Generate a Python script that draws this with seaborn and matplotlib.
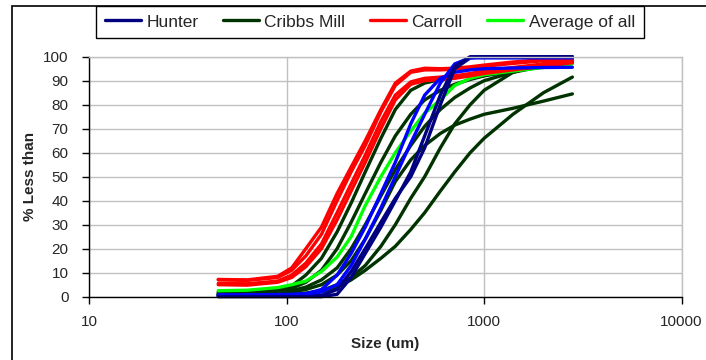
import matplotlib
matplotlib.use("Agg")
import matplotlib.pyplot as plt
from matplotlib.lines import Line2D
from matplotlib.patches import Rectangle
from matplotlib.ticker import NullLocator
import pandas as pd
import seaborn as sns

# sieve sizes (um)
sizes = [45, 63, 90, 106, 125, 150, 180, 212, 250, 300, 355, 425, 500, 600, 710, 850, 1000, 1400, 2000, 2800]

# Hunter samples (% less than)
hunter_1 = [0.5, 0.5, 0.6, 0.8, 1.2, 3, 9, 18, 29, 43, 56, 72, 84, 91, 93.5, 94.5, 95, 95.3, 95.5, 95.6]
hunter_2 = [0.3, 0.3, 0.3, 0.3, 0.3, 0.5, 3, 10.5, 20, 31, 41, 50, 62, 80, 95, 99.5, 100, 100, 100, 100]
hunter_3 = [0.8, 0.8, 0.9, 1, 1.2, 2, 5, 13, 24, 37, 50, 64, 76, 89, 97, 99.5, 99.5, 99.5, 99.5, 99.5]
hunter_4 = [0, 0, 0, 0, 0, 0, 1, 8, 18, 29, 40, 52, 67, 84, 96, 100, 100, 100, 100, 100]

# Cribbs Mill samples
cribbs_1 = [2, 2, 3, 4.5, 9, 16, 27, 39, 52, 66, 78, 86, 89, 90.5, 91.5, 92.5, 93.5, 95, 96.5, 97.5]
cribbs_2 = [1.5, 1.5, 2.5, 3.5, 6, 11, 20, 31, 43, 56, 67, 76, 82, 86, 88.5, 90.5, 92, 94, 96, 97.5]
cribbs_3 = [1.2, 1.2, 1.8, 2.5, 4, 7, 12, 20, 30, 42, 53, 63, 71, 78, 83, 87, 90, 93.5, 96, 97.5]
cribbs_4 = [1, 1, 1.5, 2, 3, 5, 9, 15, 24, 36, 48, 57, 63, 68, 71.5, 74, 76, 78.5, 81.5, 84.5]
cribbs_5 = [0.8, 0.8, 1, 1.2, 1.5, 2.5, 5, 8, 13, 21, 30, 41, 50, 62, 72, 80, 86, 93.5, 97, 98.5]
cribbs_6 = [0.5, 0.5, 0.7, 0.8, 1, 2, 4, 7, 11, 16, 21, 28, 35, 44, 52, 60, 66, 76, 85, 91.5]

# Carroll samples
carroll_1 = [7.2, 7.0, 8.5, 12, 20, 29, 43, 54, 65, 78, 89, 94, 95.2, 95, 95.2, 95.8, 96.5, 97.8, 98.8, 99.5]
carroll_2 = [7.0, 6.8, 8, 11, 17, 26, 40, 52, 63, 77, 88, 93.5, 94.5, 94.5, 94.8, 95.3, 96, 97.2, 98.3, 99]
carroll_3 = [5.5, 5.4, 6.5, 9, 14, 22, 35, 47, 59, 73, 84, 89.5, 91, 91.5, 92, 93, 94, 95.5, 97, 98]
carroll_4 = [5.0, 4.8, 6, 8, 12.5, 20, 32, 44, 56, 70, 82, 88.5, 90, 90.5, 91, 92, 93, 94.5, 96, 97.5]

# average of all
average_all = [2.5, 2.7, 3.8, 5, 6.5, 10.5, 16.5, 25, 38, 50, 60, 69, 76.5, 82, 88, 91, 92.5, 94, 95.5, 97]

NAVY = "#000080"
BLUE = "#0000FF"
DKGREEN = "#003300"
RED = "#FF0000"
LIME = "#00FF00"

curves = {
    "cribbs_1": (cribbs_1, DKGREEN), "cribbs_2": (cribbs_2, DKGREEN),
    "cribbs_3": (cribbs_3, DKGREEN), "cribbs_4": (cribbs_4, DKGREEN),
    "cribbs_5": (cribbs_5, DKGREEN), "cribbs_6": (cribbs_6, DKGREEN),
    "average_all": (average_all, LIME),
    "carroll_1": (carroll_1, RED), "carroll_2": (carroll_2, RED),
    "carroll_3": (carroll_3, RED), "carroll_4": (carroll_4, RED),
    "hunter_1": (hunter_1, BLUE), "hunter_2": (hunter_2, NAVY),
    "hunter_3": (hunter_3, BLUE), "hunter_4": (hunter_4, NAVY),
}

rows = []
for name, (vals, _) in curves.items():
    for s, v in zip(sizes, vals):
        rows.append({"curve": name, "size": s, "pct": v})
df = pd.DataFrame(rows)
palette = {name: col for name, (_, col) in curves.items()}

sns.set_style("white")
plt.rcParams["font.family"] = ["Liberation Sans", "DejaVu Sans"]

W, H = 706, 360
fig = plt.figure(figsize=(W / 100, H / 100), dpi=100)
x0, x1, y_top, y_bot = 89.3, 681.5, 56.7, 296.7
ax = fig.add_axes([x0 / W, 1 - y_bot / H, (x1 - x0) / W, (y_bot - y_top) / H])

sns.lineplot(data=df, x="size", y="pct", hue="curve", hue_order=list(curves.keys()),
             palette=palette, estimator=None, sort=False, linewidth=2.4,
             legend=False, ax=ax)
for ln in ax.lines:
    ln.set_clip_on(False)

ax.set_xscale("log")
ax.set_xlim(10, 10000)
ax.set_ylim(0, 100)
ax.set_xticks([10, 100, 1000, 10000])
ax.set_xticklabels(["10", "100", "1000", "10000"])
ax.xaxis.set_minor_locator(NullLocator())
ax.set_yticks(range(0, 101, 10))
ax.grid(True, color="#C0C0C0", linewidth=1)
ax.set_axisbelow(True)
ax.set_xlabel("")
ax.set_ylabel("")

for side in ["left", "bottom"]:
    ax.spines[side].set_color("black")
    ax.spines[side].set_linewidth(1)
for side in ["top", "right"]:
    ax.spines[side].set_color("#C0C0C0")
    ax.spines[side].set_linewidth(1)

ax.tick_params(axis="both", direction="out", length=5, width=1, color="black",
               labelsize=11, left=True, bottom=True)
ax.tick_params(axis="y", pad=10)
ax.tick_params(axis="x", pad=8)

fig.text(30 / W, 1 - 176.7 / H, "% Less than", rotation=90, fontweight="bold",
         fontsize=11, ha="center", va="center")
fig.text((x0 + x1) / 2 / W, 1 - 344 / H, "Size (um)", fontweight="bold",
         fontsize=11, ha="center", va="center")

# chart area border
fig.patches.append(Rectangle((11.5 / W, -0.5), 2, 1.5 - 5.7 / H, transform=fig.transFigure,
                             fill=False, edgecolor="black", linewidth=1.2))

handles = [Line2D([0], [0], color=c, lw=2.4) for c in [NAVY, DKGREEN, RED, LIME]]
labels = ["Hunter", "Cribbs Mill", "Carroll", "Average of all"]
leg = fig.legend(handles, labels, loc="upper left", bbox_to_anchor=(96 / W, 1 - 5.7 / H),
                 ncol=4, frameon=True, fancybox=False, edgecolor="black", framealpha=1,
                 fontsize=12.5, handlelength=2.1, handletextpad=0.3, columnspacing=1.4,
                 borderpad=0.5, borderaxespad=0)
leg.get_frame().set_linewidth(1.0)

fig.savefig("out.png", dpi=100)
